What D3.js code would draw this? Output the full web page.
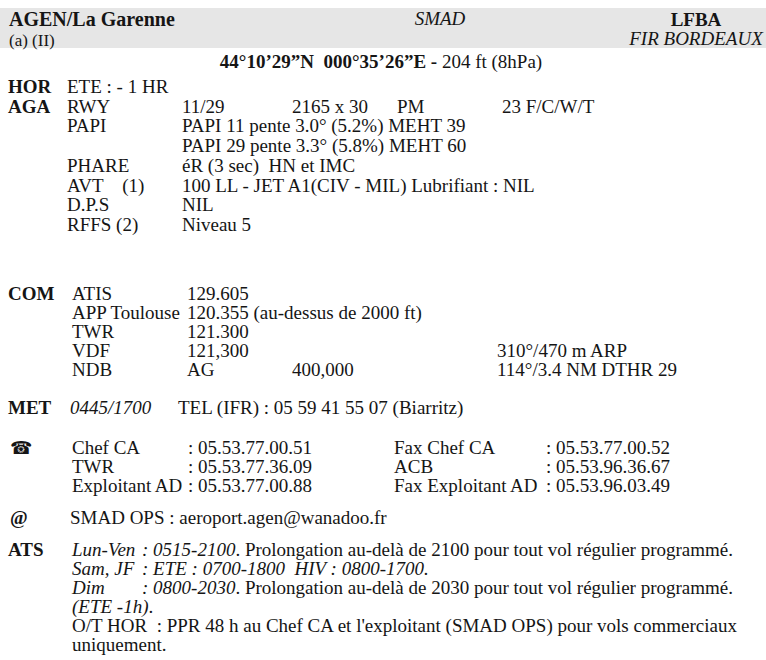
<!DOCTYPE html>
<html>
<head>
<meta charset="utf-8">
<script src="https://cdn.jsdelivr.net/npm/d3@7"></script>
<style>
  body { margin: 0; background: #fff; }
  text { font-family: "Liberation Serif", "Times New Roman", serif; fill: #151515; white-space: pre; }
</style>
</head>
<body>
<svg id="chart" width="766" height="660"></svg>
<script>
// header texts
const titleText = "AGEN/La Garenne";
const subTitle = "(a) (II)";
const operator = "SMAD";
const icaoCode = "LFBA";
const firName = "FIR BORDEAUX";
const coordBold = "44°10’29”N  000°35’26”E - ";
const coordRest = "204 ft (8hPa)";

// body rows, _..._ marks italic parts
const horAgaRows = [
  ["HOR", "ETE : - 1 HR"],
  ["AGA", "RWY", "11/29", "2165 x 30", "PM", "23 F/C/W/T"],
  ["", "PAPI", "PAPI 11 pente 3.0° (5.2%) MEHT 39"],
  ["", "", "PAPI 29 pente 3.3° (5.8%) MEHT 60"],
  ["", "PHARE", "éR (3 sec)  HN et IMC"],
  ["", "AVT    (1)", "100 LL - JET A1(CIV - MIL) Lubrifiant : NIL"],
  ["", "D.P.S", "NIL"],
  ["", "RFFS (2)", "Niveau 5"]
];
const comRows = [
  ["COM", "ATIS", "129.605"],
  ["", "APP Toulouse", "120.355 (au-dessus de 2000 ft)"],
  ["", "TWR", "121.300"],
  ["", "VDF", "121,300", "", "310°/470 m ARP"],
  ["", "NDB", "AG", "400,000", "114°/3.4 NM DTHR 29"]
];
const metRows = [
  ["MET", "_0445/1700_", "TEL (IFR) : 05 59 41 55 07 (Biarritz)"]
];
const phoneRows = [
  ["☎", "Chef CA", ": 05.53.77.00.51", "Fax Chef CA", ": 05.53.77.00.52"],
  ["", "TWR", ": 05.53.77.36.09", "ACB", ": 05.53.96.36.67"],
  ["", "Exploitant AD", ": 05.53.77.00.88", "Fax Exploitant AD", ": 05.53.96.03.49"]
];
const mailRows = [
  ["@", "SMAD OPS : aeroport.agen@wanadoo.fr"]
];
const atsRows = [
  ["ATS", "_Lun-Ven_", "_: 0515-2100_. Prolongation au-delà de 2100 pour tout vol régulier programmé."],
  ["", "_Sam, JF_", "_: ETE : 0700-1800  HIV : 0800-1700._"],
  ["", "_Dim_", "_: 0800-2030_. Prolongation au-delà de 2030 pour tout vol régulier programmé."],
  ["", "_(ETE -1h)_."],
  ["", "O/T HOR  : PPR 48 h au Chef CA et l'exploitant (SMAD OPS) pour vols commerciaux"],
  ["", "uniquement."]
];

const width = 766, height = 660;
const fs = 19;
const svg = d3.select("#chart");

// header band
svg.append("rect")
  .attr("x", 0).attr("y", 8)
  .attr("width", width).attr("height", 40)
  .attr("fill", "#e6e6e6");

svg.append("text").attr("x", 9).attr("y", 26)
  .attr("font-size", 20).attr("font-weight", "bold").text(titleText);
svg.append("text").attr("x", 9).attr("y", 46)
  .attr("font-size", 17).text(subTitle);
svg.append("text").attr("x", 440).attr("y", 25)
  .attr("font-size", fs).attr("font-style", "italic")
  .attr("text-anchor", "middle").text(operator);
svg.append("text").attr("x", 696).attr("y", 26)
  .attr("font-size", fs).attr("font-weight", "bold")
  .attr("text-anchor", "middle").text(icaoCode);
svg.append("text").attr("x", 696).attr("y", 45)
  .attr("font-size", fs).attr("font-style", "italic")
  .attr("text-anchor", "middle").text(firName);

const coord = svg.append("text").attr("x", 381).attr("y", 68)
  .attr("font-size", fs).attr("text-anchor", "middle");
coord.append("tspan").attr("font-weight", "bold").text(coordBold);
coord.append("tspan").text(coordRest);

// one block of rows: first cell is the bold section label
function drawBlock(rows, cols, y0, lineH) {
  const x = d3.scaleOrdinal().domain(d3.range(cols.length)).range(cols);
  const y = d3.scaleLinear().domain([0, 1]).range([y0, y0 + lineH]);
  const g = svg.append("g");
  rows.forEach((row, i) => {
    row.forEach((cell, j) => {
      if (!cell) return;
      const t = g.append("text")
        .attr("x", x(j)).attr("y", y(i))
        .attr("font-size", fs);
      if (j === 0) {
        if (cell === "☎") {
          t.attr("font-size", 18).style("font-family", "DejaVu Sans").text(cell);
        } else {
          t.attr("font-weight", "bold").text(cell);
        }
        return;
      }
      cell.split("_").forEach((part, k) => {
        if (!part) return;
        const s = t.append("tspan").text(part);
        if (k % 2 === 1) s.attr("font-style", "italic");
      });
    });
  });
}

drawBlock(horAgaRows, [8, 67, 182, 292, 397, 502], 93, 19.7);
drawBlock(comRows, [8, 72, 187, 292, 497], 300, 19);
drawBlock(metRows, [8, 70, 178], 414, 19);
drawBlock(phoneRows, [10, 72, 188, 394, 546], 454, 19);
drawBlock(mailRows, [10, 70], 524, 19);
drawBlock(atsRows, [8, 72, 142], 556, 19);
</script>
</body>
</html>
